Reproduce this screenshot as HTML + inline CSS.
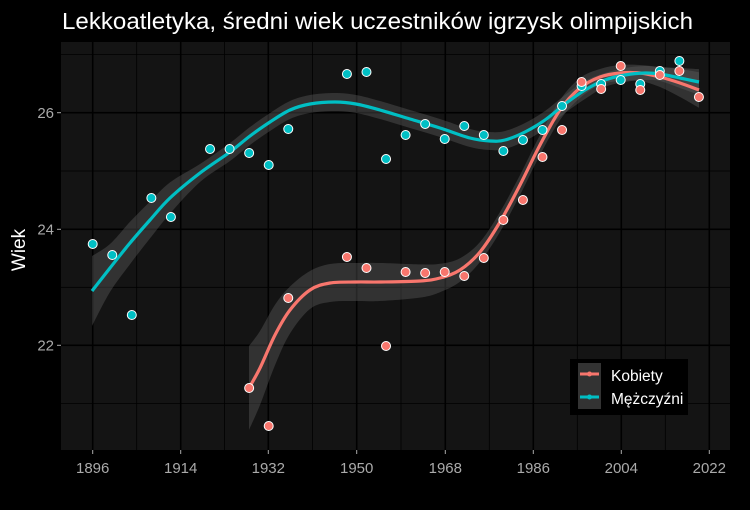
<!DOCTYPE html>
<html><head><meta charset="utf-8"><style>
html,body{margin:0;padding:0;background:#000;}
svg{display:block;font-family:"Liberation Sans",sans-serif;}
</style></head><body>
<svg id="s" width="750" height="510" viewBox="0 0 750 510" xmlns="http://www.w3.org/2000/svg">
<rect width="750" height="510" fill="#000"/>
<text x="62" y="29" font-size="23" fill="#fff" textLength="631" lengthAdjust="spacingAndGlyphs">Lekkoatletyka, średni wiek uczestników igrzysk olimpijskich</text>
<rect x="61" y="42" width="669" height="408" fill="#141414"/>
<g stroke="#000" stroke-width="0.8">
<line x1="61" x2="730" y1="54.5" y2="54.5"/><line x1="61" x2="730" y1="171" y2="171"/><line x1="61" x2="730" y1="287.3" y2="287.3"/><line x1="61" x2="730" y1="403.4" y2="403.4"/>
<line y1="42" y2="450" x1="136.7" x2="136.7"/><line y1="42" y2="450" x1="224.5" x2="224.5"/><line y1="42" y2="450" x1="312.5" x2="312.5"/><line y1="42" y2="450" x1="401" x2="401"/><line y1="42" y2="450" x1="489.3" x2="489.3"/><line y1="42" y2="450" x1="577.3" x2="577.3"/><line y1="42" y2="450" x1="665.3" x2="665.3"/>
</g>
<g stroke="#000" stroke-width="1.6">
<line x1="61" x2="730" y1="112.7" y2="112.7"/><line x1="61" x2="730" y1="229.3" y2="229.3"/><line x1="61" x2="730" y1="345.3" y2="345.3"/>
<line y1="42" y2="450" x1="92.7" x2="92.7"/><line y1="42" y2="450" x1="180.7" x2="180.7"/><line y1="42" y2="450" x1="268.3" x2="268.3"/><line y1="42" y2="450" x1="356.7" x2="356.7"/><line y1="42" y2="450" x1="445.3" x2="445.3"/><line y1="42" y2="450" x1="533.3" x2="533.3"/><line y1="42" y2="450" x1="621.3" x2="621.3"/><line y1="42" y2="450" x1="709.3" x2="709.3"/>
</g>
<g id="plot"></g>
<g stroke="#aaa" stroke-width="1">
<line x1="57" x2="61" y1="112.7" y2="112.7"/><line x1="57" x2="61" y1="229.3" y2="229.3"/><line x1="57" x2="61" y1="345.3" y2="345.3"/>
<line y1="450" y2="454" x1="92.7" x2="92.7"/><line y1="450" y2="454" x1="180.7" x2="180.7"/><line y1="450" y2="454" x1="268.3" x2="268.3"/><line y1="450" y2="454" x1="356.7" x2="356.7"/><line y1="450" y2="454" x1="445.3" x2="445.3"/><line y1="450" y2="454" x1="533.3" x2="533.3"/><line y1="450" y2="454" x1="621.3" x2="621.3"/><line y1="450" y2="454" x1="709.3" x2="709.3"/>
</g>
<g fill="#aaa" font-size="15" text-anchor="end">
<text x="54" y="118">26</text><text x="54" y="234.5">24</text><text x="54" y="350.5">22</text>
</g>
<g fill="#aaa" font-size="15" text-anchor="middle">
<text x="92.7" y="473">1896</text><text x="180.7" y="473">1914</text><text x="268.3" y="473">1932</text><text x="356.7" y="473">1950</text><text x="445.3" y="473">1968</text><text x="533.3" y="473">1986</text><text x="621.3" y="473">2004</text><text x="709.3" y="473">2022</text>
</g>
<text transform="translate(25,250) rotate(-90)" fill="#fff" font-size="19" text-anchor="middle">Wiek</text>
<rect x="570" y="359" width="118" height="56" fill="#000"/>
<rect x="578" y="363" width="23" height="46" fill="#333"/>
<line x1="580" x2="599" y1="374" y2="374" stroke="#F8766D" stroke-width="3"/><circle cx="589.5" cy="374" r="2.5" fill="#F8766D"/>
<line x1="580" x2="599" y1="397" y2="397" stroke="#00BFC4" stroke-width="3"/><circle cx="589.5" cy="397" r="2.5" fill="#00BFC4"/>
<text x="611" y="381" font-size="15.5" fill="#fff">Kobiety</text>
<text x="611" y="404" font-size="15.5" fill="#fff">Mężczyźni</text>
</svg>
<script>
function cr(p){let d="M"+p[0][0]+","+p[0][1];for(let i=0;i<p.length-1;i++){const a=p[i-1]||p[i],b=p[i],c=p[i+1],e=p[i+2]||c;d+=" C"+(b[0]+(c[0]-a[0])/6)+","+(b[1]+(c[1]-a[1])/6)+" "+(c[0]-(e[0]-b[0])/6)+","+(c[1]-(e[1]-b[1])/6)+" "+c[0]+","+c[1];}return d;}
const men=[[92,291],[110,268],[130,243],[150,220],[170,198],[200,173],[230,152],[250,136],[270,122],[290,110],[310,104],[335,102],[356,104],[380,110],[410,119],[440,128],[470,138],[490,141],[505,140],[525,132],[545,120],[565,104],[585,90],[605,80],[625,75],[645,73],[660,74],[680,78],[699,82]];
const menW=x=>x<110?35-(x-92)*0.6:x<200?24-(x-110)*0.14:x<600?9:x<660?7:7+(x-660)*0.15;
const wom=[[249,388],[260,368],[275,335],[290,310],[310,290],[330,283],[356,282],[380,282],[420,281],[440,278],[460,270],[480,252],[500,222],[520,185],[540,145],[560,110],[580,88],[600,77],[620,73],[640,73],[660,77],[680,83],[699,90]];
const womW=x=>x<300?42-(x-249)*0.45:x<400?19:x<470?19-(x-400)*0.12:x<600?10:x<650?8:8+(x-650)*0.2;
function band(p,w){const up=p.map(q=>[q[0],q[1]-w(q[0])]),dn=p.map(q=>[q[0],q[1]+w(q[0])]).reverse();return cr(up)+" L"+dn[0][0]+","+dn[0][1]+cr(dn).replace(/^M[^ ]+/,"")+" Z";}
const mp=[[1896,244],[1900,255],[1904,315],[1908,198],[1912,217],[1920,149],[1924,149],[1928,153],[1932,165],[1936,129],[1948,74],[1952,72],[1956,159],[1960,135],[1964,124],[1968,139],[1972,126],[1976,135],[1980,151],[1984,140],[1988,130],[1992,106],[1996,86],[2000,84],[2004,80],[2008,84],[2012,71],[2016,61]];
const wp=[[1928,388],[1932,426],[1936,298],[1948,257],[1952,268],[1956,346],[1960,272],[1964,273],[1968,272],[1972,276],[1976,258],[1980,220],[1984,200],[1988,157],[1992,130],[1996,82],[2000,89],[2004,66],[2008,90],[2012,75],[2016,71],[2020,97]];
const X=y=>92.7+(y-1896)*4.889;
let h="";
h+='<path d="'+band(wom,womW)+'" fill="#606060" fill-opacity="0.4"/>';
h+='<path d="'+band(men,menW)+'" fill="#606060" fill-opacity="0.4"/>';
h+='<path d="'+cr(wom)+'" fill="none" stroke="#F8766D" stroke-width="3.2"/>';
h+='<path d="'+cr(men)+'" fill="none" stroke="#00BFC4" stroke-width="3.2"/>';
mp.forEach(q=>h+='<circle cx="'+X(q[0])+'" cy="'+q[1]+'" r="4.5" fill="#00BFC4" stroke="#fff" stroke-width="1"/>');
wp.forEach(q=>h+='<circle cx="'+X(q[0])+'" cy="'+q[1]+'" r="4.5" fill="#F8766D" stroke="#fff" stroke-width="1"/>');
document.getElementById("plot").innerHTML=h;
</script>
</body></html>
